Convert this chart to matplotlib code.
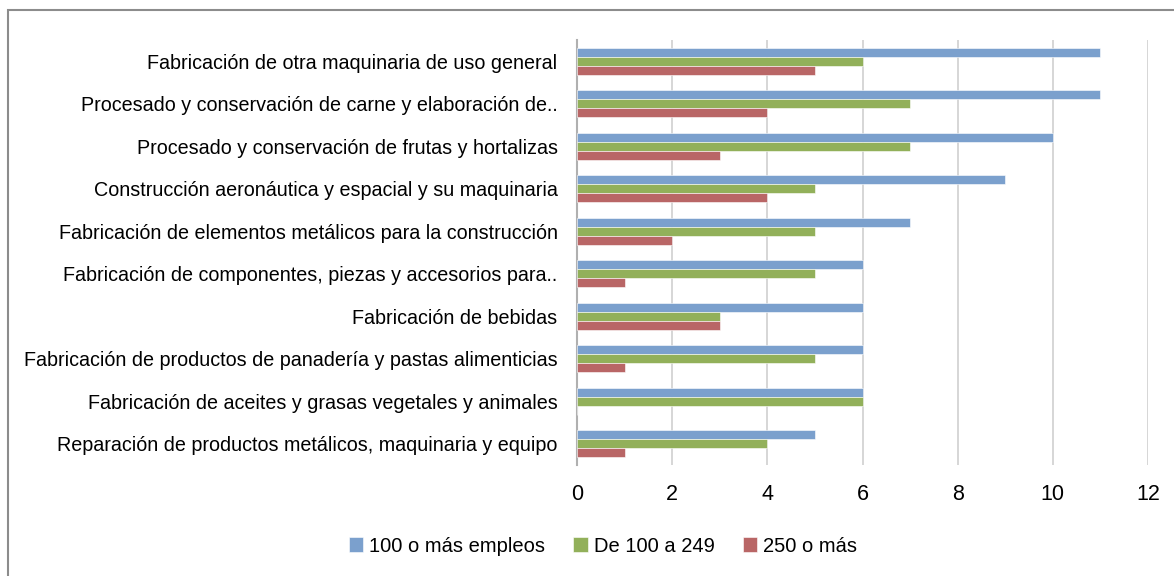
import matplotlib.pyplot as plt
from matplotlib.patches import Rectangle
import numpy as np

plt.rcParams['font.family'] = ['Liberation Sans', 'DejaVu Sans']

categories = [
    "Fabricación de otra maquinaria de uso general",
    "Procesado y conservación de carne y elaboración de..",
    "Procesado y conservación de frutas y hortalizas",
    "Construcción aeronáutica y espacial y su maquinaria",
    "Fabricación de elementos metálicos para la construcción",
    "Fabricación de componentes, piezas y accesorios para..",
    "Fabricación de bebidas",
    "Fabricación de productos de panadería y pastas alimenticias",
    "Fabricación de aceites y grasas vegetales y animales",
    "Reparación de productos metálicos, maquinaria y equipo",
]
empleos_100_mas = [11, 11, 10, 9, 7, 6, 6, 6, 6, 5]
de_100_a_249 = [6, 7, 7, 5, 5, 5, 3, 5, 6, 4]
mas_250 = [5, 4, 3, 4, 2, 1, 3, 1, 0, 1]
series_names = ["100 o más empleos", "De 100 a 249", "250 o más"]
colors = ["#7BA0CD", "#92B05A", "#B96666"]

fig = plt.figure(figsize=(11.74, 5.76), dpi=100)
ax = fig.add_axes([577 / 1174, 1 - 465 / 576, (1148 - 577) / 1174, (465 - 40) / 576])

# outer frame (partially cropped chart border)
fig.patches.append(Rectangle((8 / 1174, -0.01), 1.1, 1 - 10 / 576 + 0.01,
                             transform=fig.transFigure, fill=False,
                             edgecolor="#8c8c8c", linewidth=1.5))

y = np.arange(len(categories))
h = 0.21
for i, (vals, name, c) in enumerate(zip([empleos_100_mas, de_100_a_249, mas_250],
                                        series_names, colors)):
    ax.barh(y + (i - 1) * h, vals, height=h, color=c, label=name,
            edgecolor="white", linewidth=0.4, zorder=3)

ax.set_ylim(len(categories) - 0.5, -0.5)
ax.set_xlim(0, 12)
ax.set_xticks(range(0, 13, 2))
ax.set_yticks(y)
ax.set_yticklabels(categories, fontsize=14.2)
ax.tick_params(axis="y", length=0, pad=14)
ax.tick_params(axis="x", length=0, labelsize=15.5, pad=14)
ax.grid(axis="x", color="#d0d0d0", linewidth=1.2, zorder=0)
for s in ["top", "right", "bottom"]:
    ax.spines[s].set_visible(False)
ax.spines["left"].set_color("#b0b0b0")
ax.spines["left"].set_linewidth(1.5)

ax.legend(loc="center", bbox_to_anchor=(603 / 1174, 1 - 546 / 576),
          bbox_transform=fig.transFigure, ncol=3, frameon=False,
          fontsize=14.5, handlelength=0.7, handleheight=0.7,
          handletextpad=0.3, columnspacing=1.4)

fig.savefig("out.png", dpi=100)
